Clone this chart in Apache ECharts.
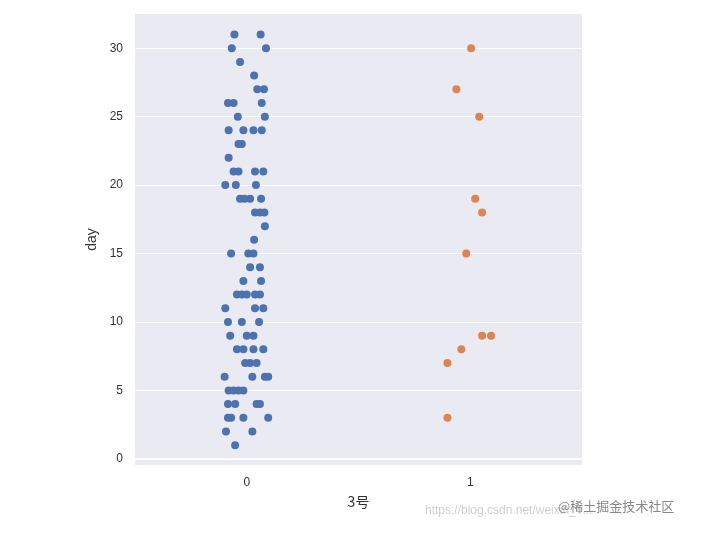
<!DOCTYPE html>
<html><head><meta charset="utf-8">
<script src="https://cdn.jsdelivr.net/npm/echarts@6/dist/echarts.min.js"></script>
<style>html,body{margin:0;padding:0;background:#fff}#c{width:706px;height:533px}</style>
</head><body><div id="c"></div>
<script>
const categories = ['0', '1'];
const yTicks = [0, 5, 10, 15, 20, 25, 30];
// group 0: [jitter offset, day]
const group0 = [
[-0.055,31],[0.062,31],[-0.067,30],[0.086,30],[-0.03,29],[0.033,28],[0.047,27],[0.077,27],
[-0.084,26],[-0.059,26],[0.067,26],[-0.04,25],[0.081,25],[-0.081,24],[-0.015,24],[0.03,24],[0.067,24],
[-0.037,23],[-0.022,23],[-0.081,22],[-0.059,21],[-0.037,21],[0.037,21],[0.074,21],
[-0.096,20],[-0.049,20],[0.041,20],[-0.03,19],[-0.01,19],[0.015,19],[0.064,19],
[0.037,18],[0.059,18],[0.079,18],[0.081,17],[0.033,16],[-0.07,15],[0.007,15],[0.03,15],
[0.015,14],[0.059,14],[-0.015,13],[0.064,13],[-0.044,12],[-0.022,12],[0,12],[0.037,12],[0.059,12],
[-0.096,11],[0.037,11],[0.074,11],[-0.084,10],[-0.022,10],[0.055,10],[-0.074,9],[0,9],[0.03,9],
[-0.044,8],[-0.015,8],[0.03,8],[0.074,8],[-0.007,7],[0.015,7],[0.044,7],
[-0.099,6],[0.025,6],[0.081,6],[0.096,6],[-0.081,5],[-0.059,5],[-0.037,5],[-0.015,5],
[-0.084,4],[-0.052,4],[0.044,4],[0.059,4],[-0.084,3],[-0.07,3],[-0.015,3],[0.096,3],
[-0.093,2],[0.025,2],[-0.052,1]
];
const group1 = [
[0.004,30],[-0.062,27],[0.04,25],[0.022,19],[0.053,18],[-0.018,15],[0.053,9],[0.093,9],[-0.04,8],[-0.102,7],[-0.102,3]
];
const chart = echarts.init(document.getElementById('c'));
chart.setOption({
  animation:false,
  grid:{left:135,right:124,top:14,bottom:68,show:true,backgroundColor:'#EAEAF2',borderWidth:0},
  xAxis:{type:'value',min:-0.5,max:1.5,name:'3号',nameLocation:'middle',nameGap:30,
    nameTextStyle:{color:'#333',fontSize:14,fontFamily:'Noto Sans CJK SC'},
    axisLine:{show:true,lineStyle:{color:'#fff',width:1.5}},axisTick:{show:false},splitLine:{show:false},
    axisLabel:{customValues:[0,1],formatter:v=>categories[Math.round(v)],color:'#333',fontSize:12,margin:12}},
  yAxis:{type:'value',min:-0.45,max:32.5,name:'day',nameLocation:'middle',nameGap:36,
    nameTextStyle:{color:'#333',fontSize:14},
    axisLine:{show:false},axisTick:{show:false,customValues:yTicks},
    splitLine:{show:true,lineStyle:{color:'#fff',width:1.2}},
    axisLabel:{customValues:yTicks,color:'#333',fontSize:12,margin:12}},
  series:[
    {type:'scatter',symbolSize:8,itemStyle:{color:'#4C72B0',opacity:1},data:group0.map(d=>[0+d[0],d[1]])},
    {type:'scatter',symbolSize:8,itemStyle:{color:'#DD8452',opacity:1},data:group1.map(d=>[1+d[0],d[1]])}
  ],
  graphic:[
    {type:'text',left:425,top:505,style:{text:'https://blog.csdn.net/weixin_4...',fill:'rgba(0,0,0,0.2)',fontSize:12}},
    {type:'text',left:558,top:500,style:{text:'@稀土掘金技术社区',fill:'#888',fontSize:13,fontFamily:'Noto Sans CJK SC'}}
  ]
});
</script></body></html>
